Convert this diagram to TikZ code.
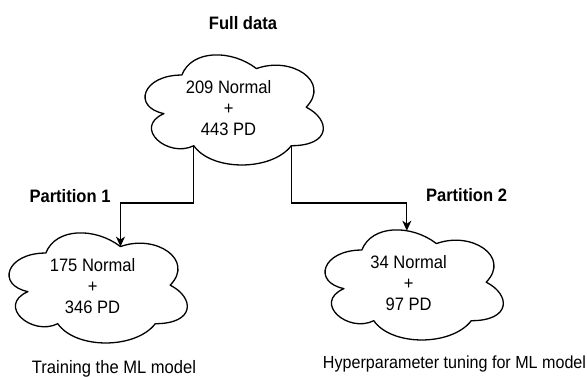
\documentclass[tikz,border=0pt]{standalone}
\usepackage{fontspec}
\setmainfont[FakeStretch=0.92]{Liberation Sans}
\usetikzlibrary{arrows.meta,calc}
\tikzset{
  cloudline/.style={draw=black, line width=1.3pt, fill=white, line join=round},
  cloudtext/.style={align=center, font=\fontsize{18}{20.8}\selectfont, inner sep=0pt},
  lbl/.style={font=\fontsize{18}{20}\selectfont\bfseries, inner sep=0pt},
  captiontext/.style={font=\fontsize{18}{20}\selectfont, inner sep=0pt, anchor=base},
  conn/.style={draw=black, line width=1.3pt, -{Stealth[length=10pt,width=9pt,inset=3pt]}},
}
% #1 name, #2 x, #3 y of north-west corner, #4 text
\newcommand\mxcloud[4]{%
  \begin{scope}[shift={(#2,#3)}, x=199pt, y=-128.5pt]
    \draw[cloudline] (0.25,0.25) .. controls (0.05,0.25) and (0,0.5) .. (0.16,0.55)
      .. controls (0,0.66) and (0.18,0.9) .. (0.31,0.8)
      .. controls (0.4,1) and (0.7,1) .. (0.8,0.8)
      .. controls (1,0.8) and (1,0.6) .. (0.875,0.5)
      .. controls (1,0.3) and (0.8,0.1) .. (0.625,0.2)
      .. controls (0.5,0.05) and (0.3,0.05) .. (0.25,0.25) -- cycle;
    \node[cloudtext, xshift=-3pt, yshift=-1pt] (#1) at (0.5,0.5) {#4};
    \coordinate (#1-bl) at (0.31,0.8);
    \coordinate (#1-br) at (0.8,0.8);
    \coordinate (#1-tr) at (0.625,0.2);
    \coordinate (#1-top) at (0.476,0.0997);
  \end{scope}}
\begin{document}
\begin{tikzpicture}[x=1pt,y=-1pt]
  \useasboundingbox (0,0) rectangle (587,376);
  \mxcloud{full}{132.1}{42.9}{209 Normal\\+\\443 PD}
  \mxcloud{train}{-3.9}{220.9}{175 Normal\\+\\346 PD}
  \mxcloud{tune}{312.1}{217.9}{34 Normal\\+\\97 PD}
  \node[lbl] (fulllbl) at (243,23) {Full data};
  \node[lbl] (p1) at (70,196) {Partition 1};
  \node[lbl] (p2) at (466.5,195.5) {Partition 2};
  \node[captiontext] (cap1) at (114,373) {Training the ML model};
  \node[captiontext, font=\fontsize{17.5}{20}\selectfont] (cap2) at (454.5,368) {Hyperparameter tuning for ML model};
  \coordinate (bend) at (0,203);
  \draw[conn] (full-bl) -- (full-bl |- bend) -| (train-tr);
  \draw[conn] (full-br) -- (full-br |- bend) -| (tune-top);
\end{tikzpicture}
\end{document}
